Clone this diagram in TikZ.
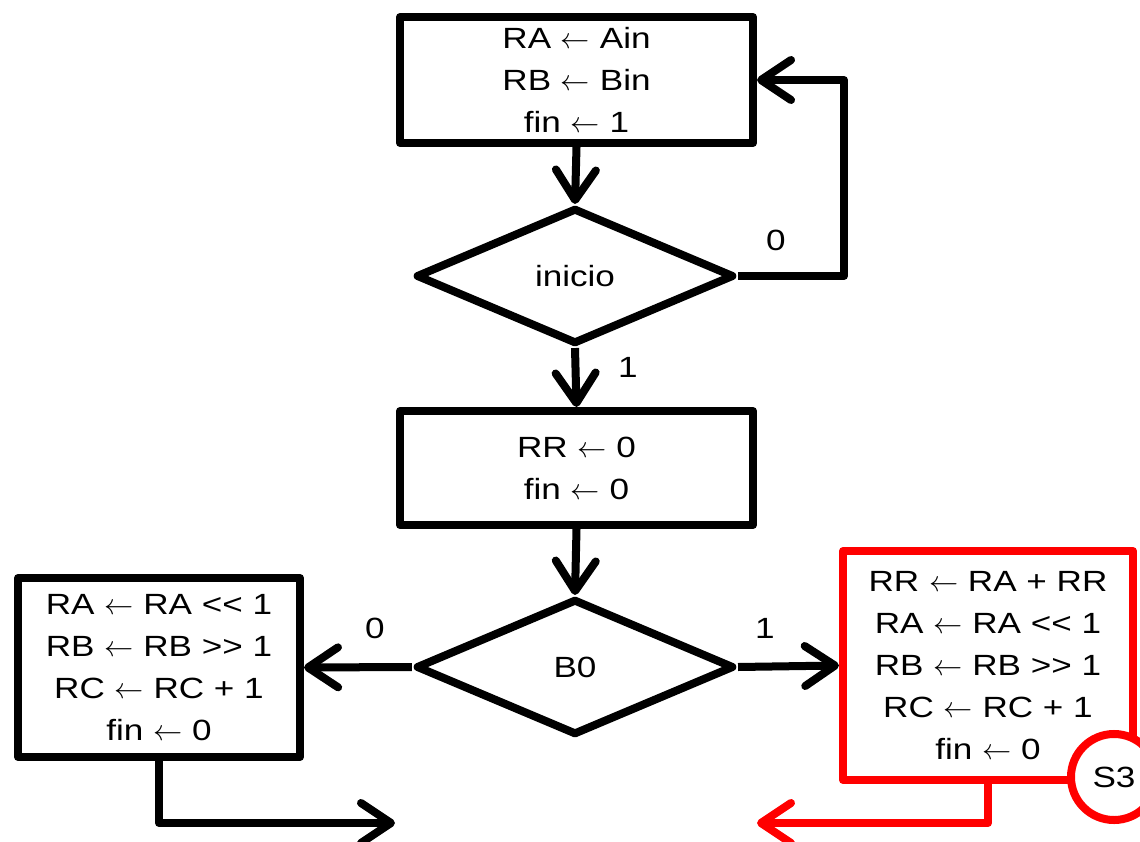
\documentclass[tikz,border=0pt]{standalone}
\usepackage{fontspec}
\setmainfont{Liberation Sans}[FakeStretch=1.2]
\usetikzlibrary{arrows.meta,shapes.geometric}
\newcommand\shl{<\kern0pt<}
\newcommand\shr{>\kern0pt>}
\newcommand\lar{$\leftarrow$}
\begin{document}
\begin{tikzpicture}[x=0.025cm,y=-0.025cm,
  every node/.style={font=\fontsize{20.8}{29.8}\selectfont, align=center},
  blk/.style={draw=black, line width=0.2cm, fill=white, rectangle, line join=round, inner sep=0pt},
  dec/.style={draw=black, line width=0.2cm, fill=white, diamond, line join=round, inner sep=0pt, minimum width=7.95cm, minimum height=3.4cm},
  redblk/.style={blk, draw=red},
  arr/.style={line width=0.2cm, line join=round, -{Straight Barb[length=0.75cm,width=1cm,line cap=round,line join=round]}},
  lbl/.style={inner sep=0pt}]
\useasboundingbox (0,0) rectangle (1140,842);
\node[blk, minimum width=8.825cm, minimum height=3.15cm] (top) at (576.5,80) {RA \lar{} Ain\\RB \lar{} Bin\\fin \lar{} 1};
\node[dec] (ini) at (575,276) {inicio};
\node[blk, minimum width=8.825cm, minimum height=2.85cm] (b2) at (576.5,468) {RR \lar{} 0\\fin \lar{} 0};
\node[dec] (b0) at (575,667) {B0};
\node[blk, minimum width=7.05cm, minimum height=4.475cm] (lb) at (159,667.5) {RA \lar{} RA \shl{} 1\\RB \lar{} RB \shr{} 1\\RC \lar{} RC + 1\\fin \lar{} 0};
\node[redblk, minimum width=7.25cm, minimum height=5.725cm] (rb) at (988,665.5) {RR \lar{} RA + RR\\RA \lar{} RA \shl{} 1\\RB \lar{} RB \shr{} 1\\RC \lar{} RC + 1\\fin \lar{} 0};
\node[draw=red, line width=0.2cm, fill=white, circle, inner sep=0pt, minimum size=2.15cm] (s3) at (1114,777) {S3};
\coordinate (out1) at (395,823);
\coordinate (out2) at (757,823);
\draw[arr] (top.south) -- (ini.north);
\draw[arr] (ini.east) -- ++(106,0) |- (top.east);
\draw[arr] (ini.south) -- (b2.north);
\draw[arr] (b2.south) -- (b0.north);
\draw[arr] (b0.west) -- (lb.east);
\draw[arr] (b0.east) -- (rb.west);
\draw[arr] (lb.south) |- (out1);
\draw[arr, red] (rb.south) |- (out2);
\node[lbl] (l0a) at (776,240) {0};
\node[lbl] (l1a) at (628,367) {1};
\node[lbl] (l0b) at (375,628) {0};
\node[lbl] (l1b) at (765,628) {1};
\end{tikzpicture}
\end{document}
